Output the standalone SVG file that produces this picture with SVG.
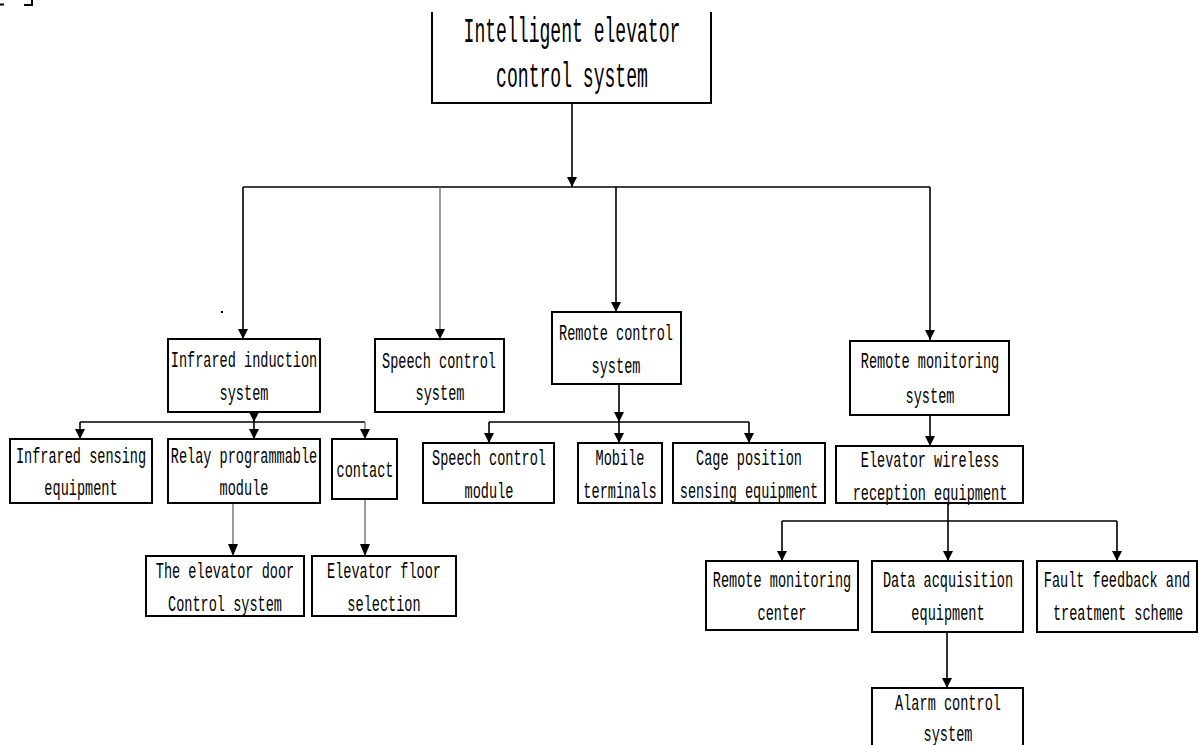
<svg xmlns="http://www.w3.org/2000/svg" width="1203" height="745" viewBox="0 0 1203 745">
<defs>
<marker id="ah" markerUnits="userSpaceOnUse" markerWidth="10" markerHeight="10" refX="5" refY="10" viewBox="0 0 10 10">
<path d="M0,0 L10,0 L5,10 Z" fill="#000"/>
</marker>
<marker id="ahs" markerUnits="userSpaceOnUse" markerWidth="10" markerHeight="12" refX="5" refY="12" viewBox="0 0 10 12">
<path d="M0,0 L10,0 L5,12 Z" fill="#000"/>
</marker>
</defs>
<style>
.box{fill:#fff;stroke:#000;stroke-width:2}
.t{font-family:"Liberation Mono","DejaVu Sans Mono",monospace;font-size:22px;fill:#000;text-anchor:middle}
.tt{font-family:"Liberation Mono","DejaVu Sans Mono",monospace;font-size:36px;fill:#000;text-anchor:middle}
.c{fill:none;stroke:#000;stroke-width:1.6}
.g{fill:none;stroke:#666;stroke-width:1.3}
</style>
<rect width="1203" height="745" fill="#fff"/>
<g id="artifacts">
<path d="M0,4.5 H4" stroke="#000" stroke-width="2" fill="none"/>
<path d="M24,5 H32 V0" stroke="#000" stroke-width="2" fill="none"/>
<rect x="221" y="311" width="2" height="2" fill="#000"/>
</g>
<g id="connectors">
<path class="c" d="M572,103 V187" marker-end="url(#ah)"/>
<path class="c" d="M243,187 H930"/>
<path class="c" d="M243,187 V339" marker-end="url(#ah)"/>
<path class="g" d="M440,187 V339" marker-end="url(#ah)"/>
<path class="c" d="M616,187 V312" marker-end="url(#ah)"/>
<path class="c" d="M930,187 V340" marker-end="url(#ah)"/>
<path class="c" d="M254,412 V422" marker-end="url(#ah)"/>
<path class="c" d="M80,422 H365"/>
<path class="c" d="M80,422 V439" marker-end="url(#ah)"/>
<path class="c" d="M254,422 V439" marker-end="url(#ah)"/>
<path class="g" d="M365,422 V439" marker-end="url(#ah)"/>
<path class="g" d="M233,503 V556" marker-end="url(#ahs)"/>
<path class="g" d="M365,499 V556" marker-end="url(#ahs)"/>
<path class="c" d="M619,384 V422" marker-end="url(#ah)"/>
<path class="c" d="M489,422 H749"/>
<path class="c" d="M489,422 V443" marker-end="url(#ah)"/>
<path class="c" d="M619,422 V443" marker-end="url(#ah)"/>
<path class="c" d="M749,422 V443" marker-end="url(#ah)"/>
<path class="c" d="M930,415 V446" marker-end="url(#ah)"/>
<path class="c" d="M948,503 V561" marker-end="url(#ah)"/>
<path class="c" d="M782,521 H1117"/>
<path class="c" d="M782,521 V561" marker-end="url(#ah)"/>
<path class="c" d="M1117,521 V561" marker-end="url(#ah)"/>
<path class="c" d="M947,632 V688" marker-end="url(#ah)"/>
</g>
<g id="root">
<path class="box" d="M432,12 V103 H711 V12"/>
<text class="tt" transform="translate(572,42) scale(0.502,1)">Intelligent elevator</text>
<text class="tt" transform="translate(572,87) scale(0.502,1)">control system</text>
</g>
<g id="infrared-induction">
<rect class="box" x="168" y="339" width="152" height="73"/>
<text class="t" transform="translate(244,367) scale(0.617,1)">Infrared induction</text>
<text class="t" transform="translate(244,400) scale(0.617,1)">system</text>
</g>
<g id="speech-control-system">
<rect class="box" x="375" y="339" width="129" height="73"/>
<text class="t" transform="translate(439,368) scale(0.617,1)">Speech control</text>
<text class="t" transform="translate(440,400) scale(0.617,1)">system</text>
</g>
<g id="remote-control-system">
<rect class="box" x="552" y="312" width="129" height="72"/>
<text class="t" transform="translate(616,340) scale(0.617,1)">Remote control</text>
<text class="t" transform="translate(616,373) scale(0.617,1)">system</text>
</g>
<g id="remote-monitoring-system">
<rect class="box" x="850" y="341" width="159" height="74"/>
<text class="t" transform="translate(930,368) scale(0.617,1)">Remote monitoring</text>
<text class="t" transform="translate(930,403) scale(0.617,1)">system</text>
</g>
<g id="infrared-sensing">
<rect class="box" x="10" y="439" width="142" height="64"/>
<text class="t" transform="translate(81,463) scale(0.617,1)">Infrared sensing</text>
<text class="t" transform="translate(81,495) scale(0.617,1)">equipment</text>
</g>
<g id="relay-module">
<rect class="box" x="168" y="439" width="152" height="64"/>
<text class="t" transform="translate(244,463) scale(0.617,1)">Relay programmable</text>
<text class="t" transform="translate(244,495) scale(0.617,1)">module</text>
</g>
<g id="contact">
<rect class="box" x="332" y="439" width="65" height="60"/>
<text class="t" transform="translate(365,477) scale(0.617,1)">contact</text>
</g>
<g id="elevator-door">
<rect class="box" x="146" y="556" width="158" height="60"/>
<text class="t" transform="translate(225,578) scale(0.617,1)">The elevator door</text>
<text class="t" transform="translate(225,611) scale(0.617,1)">Control system</text>
</g>
<g id="floor-selection">
<rect class="box" x="312" y="556" width="144" height="60"/>
<text class="t" transform="translate(384,578) scale(0.617,1)">Elevator floor</text>
<text class="t" transform="translate(384,611) scale(0.617,1)">selection</text>
</g>
<g id="speech-control-module">
<rect class="box" x="423" y="443" width="131" height="60"/>
<text class="t" transform="translate(489,465) scale(0.617,1)">Speech control</text>
<text class="t" transform="translate(489,498) scale(0.617,1)">module</text>
</g>
<g id="mobile-terminals">
<rect class="box" x="578" y="443" width="84" height="60"/>
<text class="t" transform="translate(620,465) scale(0.617,1)">Mobile</text>
<text class="t" transform="translate(620,498) scale(0.617,1)">terminals</text>
</g>
<g id="cage-position">
<rect class="box" x="673" y="443" width="152" height="60"/>
<text class="t" transform="translate(749,465) scale(0.617,1)">Cage position</text>
<text class="t" transform="translate(749,498) scale(0.617,1)">sensing equipment</text>
</g>
<g id="wireless-reception">
<rect class="box" x="836" y="446" width="187" height="57"/>
<text class="t" transform="translate(930,467) scale(0.617,1)">Elevator wireless</text>
<text class="t" transform="translate(930,500) scale(0.617,1)">reception equipment</text>
</g>
<g id="remote-monitoring-center">
<rect class="box" x="706" y="561" width="152" height="69"/>
<text class="t" transform="translate(782,587) scale(0.617,1)">Remote monitoring</text>
<text class="t" transform="translate(782,620) scale(0.617,1)">center</text>
</g>
<g id="data-acquisition">
<rect class="box" x="872" y="561" width="151" height="71"/>
<text class="t" transform="translate(948,587) scale(0.617,1)">Data acquisition</text>
<text class="t" transform="translate(948,620) scale(0.617,1)">equipment</text>
</g>
<g id="fault-feedback">
<rect class="box" x="1037" y="561" width="160" height="71"/>
<text class="t" transform="translate(1117,587) scale(0.617,1)">Fault feedback and</text>
<text class="t" transform="translate(1118,620) scale(0.617,1)">treatment scheme</text>
</g>
<g id="alarm-control">
<path class="box" d="M872,746 V688 H1023 V746"/>
<text class="t" transform="translate(948,710) scale(0.617,1)">Alarm control</text>
<text class="t" transform="translate(948,741) scale(0.617,1)">system</text>
</g>
</svg>
